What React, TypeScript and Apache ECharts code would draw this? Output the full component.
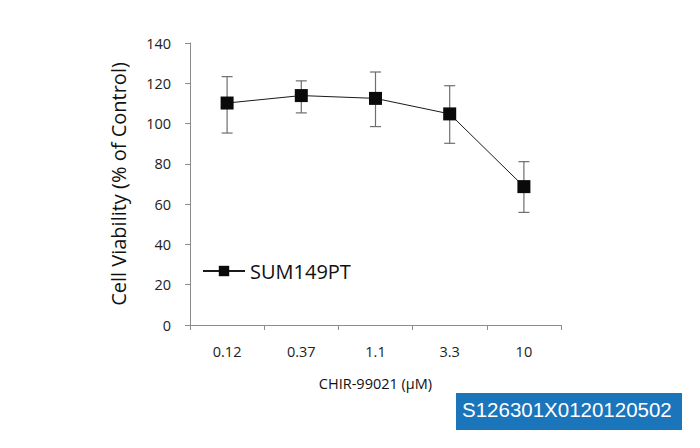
import React, { useEffect, useRef } from "react";
import * as echarts from "echarts";

const categories = ["0.12", "0.37", "1.1", "3.3", "10"];
const viability = [110.2, 113.9, 112.5, 104.8, 68.7];
const errLow = [95.3, 105.3, 98.5, 90.2, 55.9];
const errHigh = [123.3, 121.2, 125.6, 118.8, 81.1];
const seriesName = "SUM149PT";
const yTitle = "Cell Viability (% of Control)";
const xTitle = "CHIR-99021 (μM)";
const stampText = "S126301X0120120502";

export default function App() {
  const ref = useRef<HTMLDivElement>(null);
  useEffect(() => {
    if (!ref.current) return;
    const chart = echarts.init(ref.current, null, { renderer: "svg" });
    const font = "'Open Sans', 'Noto Sans', sans-serif";
    chart.setOption({
      animation: false,
      backgroundColor: "#ffffff",
      textStyle: { fontFamily: font },
      grid: { left: 190, top: 43, right: 139, bottom: 123 },
      legend: {
        left: 197,
        top: 256,
        itemWidth: 42,
        itemHeight: 13,
        itemGap: 4,
        data: [seriesName],
        textStyle: { fontSize: 20, color: "#111", fontFamily: font },
      },
      xAxis: {
        type: "category",
        data: categories,
        boundaryGap: true,
        name: xTitle,
        nameLocation: "middle",
        nameGap: 51,
        nameTextStyle: { fontSize: 14.5, color: "#111", fontFamily: font },
        axisLine: { lineStyle: { color: "#8c8c8c", width: 1 } },
        axisTick: { show: true, length: 5, lineStyle: { color: "#8c8c8c" } },
        axisLabel: { fontSize: 14.5, color: "#222", margin: 19, fontFamily: font },
      },
      yAxis: {
        type: "value",
        min: 0,
        max: 140,
        interval: 20,
        name: yTitle,
        nameLocation: "middle",
        nameGap: 62,
        nameTextStyle: { fontSize: 20, color: "#111", fontFamily: font },
        axisLine: { show: true, lineStyle: { color: "#8c8c8c", width: 1 } },
        axisTick: { show: true, length: 5, lineStyle: { color: "#8c8c8c" } },
        splitLine: { show: false },
        axisLabel: { fontSize: 14.5, color: "#222", margin: 19, fontFamily: font },
      },
      graphic: [
        {
          type: "rect",
          left: 456,
          top: 393,
          shape: { width: 226, height: 37 },
          style: { fill: "#1b75bb" },
        },
        {
          type: "text",
          left: 462,
          top: 399,
          style: {
            text: stampText,
            fill: "#ffffff",
            fontSize: 20.5,
            fontFamily: "'Liberation Sans', Arial, sans-serif",
          },
        },
      ],
      series: [
        {
          type: "custom",
          name: "err",
          data: categories.map((_, i) => [i, errLow[i], errHigh[i]]),
          renderItem: (params: any, api: any) => {
            const i = api.value(0);
            const lo = api.coord([i, api.value(1)]);
            const hi = api.coord([i, api.value(2)]);
            const w = 5.5;
            const st = { stroke: "#6e6e6e", lineWidth: 1.2 };
            return {
              type: "group",
              children: [
                { type: "line", shape: { x1: lo[0], y1: lo[1], x2: hi[0], y2: hi[1] }, style: st },
                { type: "line", shape: { x1: lo[0] - w, y1: lo[1], x2: lo[0] + w, y2: lo[1] }, style: st },
                { type: "line", shape: { x1: hi[0] - w, y1: hi[1], x2: hi[0] + w, y2: hi[1] }, style: st },
              ],
            };
          },
          z: 1,
        },
        {
          type: "line",
          name: seriesName,
          data: viability,
          symbol: "rect",
          symbolSize: 13,
          itemStyle: { color: "#0a0a0a" },
          lineStyle: { color: "#1a1a1a", width: 1 },
          z: 3,
        },
      ],
    });
    return () => chart.dispose();
  }, []);
  return <div ref={ref} style={{ width: 700, height: 448, position: "absolute", left: 0, top: 0 }} />;
}
